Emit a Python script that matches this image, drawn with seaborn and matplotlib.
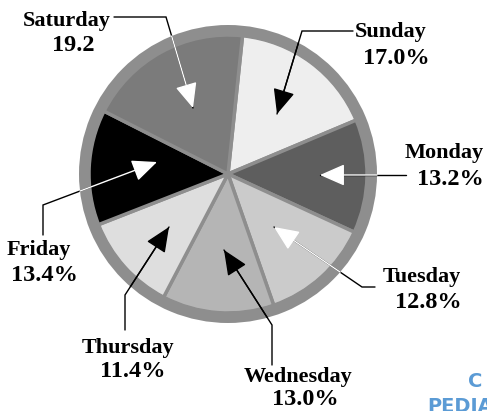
import numpy as np
import matplotlib
matplotlib.use("Agg")
import matplotlib.pyplot as plt
from matplotlib.patches import Wedge
import seaborn as sns

# Share of the week, by day
days = ["Sunday", "Monday", "Tuesday", "Wednesday", "Thursday", "Friday", "Saturday"]
shares = [17.0, 13.2, 12.8, 13.0, 11.4, 13.4, 19.2]
show_pct = [True, True, True, True, True, True, False]
slice_colors = ["#eeeeee", "#5e5e5e", "#cbcbcb", "#b5b5b5", "#dedede", "#000000", "#7b7b7b"]

W, H = 487, 411
sns.set_theme(style="white")
plt.rcParams["font.family"] = ["Liberation Serif", "DejaVu Serif"]

fig = plt.figure(figsize=(W / 100, H / 100), dpi=100)
ax = fig.add_axes([0, 0, 1, 1])


def px(x, y):
    """Pixel position (from top-left) to data coordinates."""
    return (x, H - y)


cx, cy = px(228, 174)
ring_gray = "#8e8e8e"
palette = sns.color_palette(slice_colors)

ax.pie(shares, colors=palette, startangle=84, counterclock=False,
       center=(cx, cy), radius=139,
       wedgeprops=dict(edgecolor=ring_gray, linewidth=2.5))
ax.add_patch(Wedge((cx, cy), 149, 0, 360, width=11, facecolor=ring_gray,
                   edgecolor="none", zorder=2))

# label layout: name centre/baseline, value centre/baseline, leader path, arrow colour
layout = {
    "Sunday":    ((391, 37), (396, 64), [(353, 31), (302, 31), (277, 114)], "black"),
    "Monday":    ((444, 158), (450, 185), [(406, 175), (320, 175)], "white"),
    "Tuesday":   ((422, 282), (428, 308), [(375, 287), (362, 287), (274, 227)], "white"),
    "Wednesday": ((298, 382), (305, 405), [(272, 365), (272, 325), (224, 250)], "black"),
    "Thursday":  ((128, 353), (133, 377), [(125, 330), (125, 295), (169, 227)], "black"),
    "Friday":    ((39, 255), (44, 281), [(43, 235), (43, 205), (157, 162)], "white"),
    "Saturday":  ((67, 26), (73, 51), [(114, 17), (166, 17), (193, 108)], "white"),
}

R_out = 149
lw_line = 1.0

for day, share, pct in zip(days, shares, show_pct):
    (nx, ny), (vx, vy), path, col = layout[day]
    ax.text(*px(nx, ny), day, ha="center", va="baseline", fontsize=16,
            fontweight="bold", color="black", zorder=5)
    value_text = f"{share:.1f}%" if pct else f"{share:.1f}"
    ax.text(*px(vx, vy), value_text, ha="center", va="baseline", fontsize=17.5,
            fontweight="bold", color="black", zorder=5)

    pts = [px(x, y) for x, y in path]
    # leader line outside the pie in black
    xs, ys = zip(*pts)
    ax.plot(xs, ys, color="black", lw=lw_line, zorder=4, solid_joinstyle="miter")

    # last segment: find where it enters the pie
    (x0, y0), (x1, y1) = pts[-2], pts[-1]
    d = np.array([x1 - x0, y1 - y0])
    f = np.array([x0 - cx, y0 - cy])
    a = d @ d
    b = 2 * f @ d
    c = f @ f - R_out ** 2
    disc = b * b - 4 * a * c
    t = (-b - np.sqrt(disc)) / (2 * a) if disc > 0 else 0.0
    t = min(max(t, 0.0), 1.0)
    ex, ey = x0 + t * d[0], y0 + t * d[1]

    ax.annotate("", xy=(x1, y1), xytext=(ex, ey),
                arrowprops=dict(arrowstyle="-|>,head_length=15.5,head_width=6.8",
                                mutation_scale=1, color=col, lw=lw_line,
                                shrinkA=0, shrinkB=0),
                zorder=6)

# publisher mark in the lower right corner
ax.text(*px(468, 387), "C", ha="left", va="baseline", fontsize=14,
        fontweight="bold", color="#5b9bd5", family="DejaVu Sans", zorder=5)
ax.text(*px(427, 412), "PEDIA", ha="left", va="baseline", fontsize=14,
        fontweight="bold", color="#5b9bd5", family="DejaVu Sans", zorder=5)

ax.set_xlim(0, W)
ax.set_ylim(0, H)
ax.set_aspect("equal")
ax.axis("off")

fig.savefig("out.png", dpi=100)
